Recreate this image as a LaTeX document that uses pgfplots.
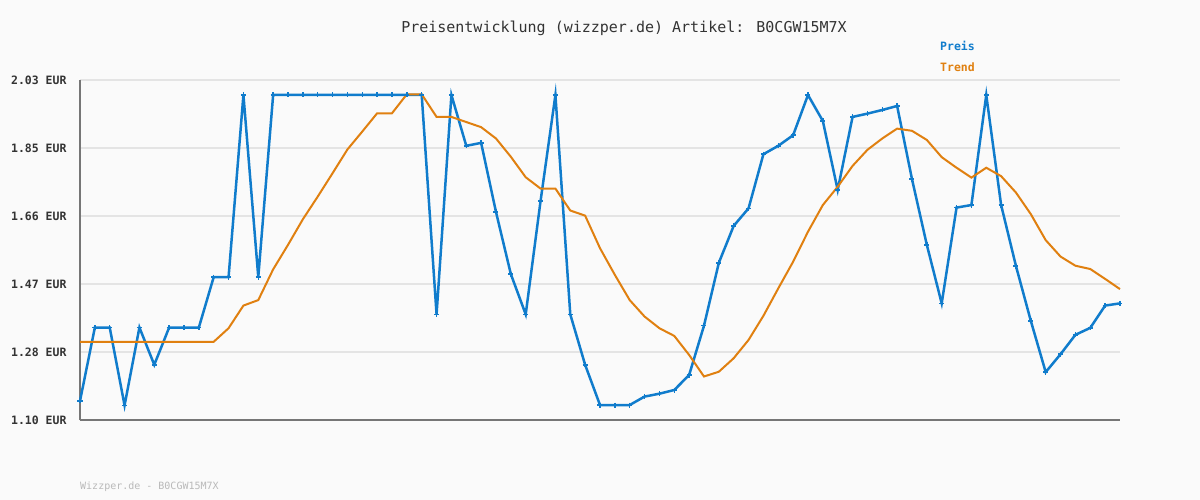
\documentclass[border=0pt]{standalone}
\usepackage{fontspec}
\setmainfont{DejaVu Sans Mono}
\usepackage{pgfplots}
\usepackage{pgfplotstable}
\pgfplotsset{compat=1.18}
\definecolor{preis}{RGB}{16,124,204}
\definecolor{trend}{RGB}{224,128,16}
\definecolor{bg}{RGB}{250,250,250}
\definecolor{gridc}{RGB}{228,228,228}
\definecolor{axc}{RGB}{118,118,118}
\definecolor{txt}{RGB}{51,51,51}
\definecolor{foot}{RGB}{185,185,185}

\pgfplotstableread{
i p t
0 1.152 1.314
1 1.353 1.314
2 1.353 1.314
3 1.140 1.314
4 1.353 1.314
5 1.251 1.314
6 1.353 1.314
7 1.353 1.314
8 1.353 1.314
9 1.491 1.314
10 1.491 1.351
11 1.989 1.413
12 1.491 1.428
13 1.989 1.512
14 1.989 1.579
15 1.989 1.649
16 1.989 1.711
17 1.989 1.775
18 1.989 1.840
19 1.989 1.889
20 1.989 1.939
21 1.989 1.939
22 1.989 1.991
23 1.989 1.991
24 1.389 1.929
25 1.989 1.929
26 1.850 1.915
27 1.858 1.901
28 1.669 1.870
29 1.499 1.820
30 1.389 1.764
31 1.699 1.733
32 1.989 1.733
33 1.389 1.673
34 1.251 1.659
35 1.141 1.570
36 1.141 1.497
37 1.141 1.428
38 1.164 1.383
39 1.172 1.351
40 1.182 1.330
41 1.223 1.278
42 1.358 1.219
43 1.530 1.232
44 1.631 1.269
45 1.679 1.319
46 1.827 1.385
47 1.850 1.460
48 1.879 1.533
49 1.989 1.615
50 1.918 1.688
51 1.729 1.738
52 1.929 1.795
53 1.938 1.839
54 1.948 1.870
55 1.959 1.897
56 1.759 1.891
57 1.579 1.866
58 1.419 1.819
59 1.681 1.790
60 1.688 1.763
61 1.989 1.790
62 1.688 1.767
63 1.521 1.722
64 1.371 1.663
65 1.231 1.592
66 1.280 1.547
67 1.333 1.522
68 1.352 1.513
69 1.413 1.486
70 1.419 1.458
}\data

\begin{document}
\begin{tikzpicture}
\fill[bg] (0,0) rectangle (1200bp,500bp);
\begin{axis}[
  at={(80bp,80bp)}, anchor=south west,
  scale only axis, width=1040bp, height=340bp,
  xmin=0, xmax=70, ymin=1.10, ymax=2.03,
  axis x line=bottom, axis y line=left,
  axis line style={-, draw=axc, line width=2bp},
  xtick=\empty,
  ytick={1.10,1.286,1.472,1.658,1.844,2.03},
  yticklabels={1.10 EUR,1.28 EUR,1.47 EUR,1.66 EUR,1.85 EUR,2.03 EUR},
  ymajorgrids, grid style={gridc, line width=1.5bp},
  major tick length=0pt,
  yticklabel style={font=\fontsize{11.5bp}{13bp}\selectfont\bfseries, text=txt, xshift=-10bp},
  clip=false,
  legend image code/.code={},
  legend cell align=left,
  legend style={draw=none, fill=none, at={(0.825,1.120)}, anchor=north west,
    font=\fontsize{11.5bp}{13bp}\selectfont\bfseries, row sep=7bp, inner sep=0pt},
]
\addplot[preis, line width=2.5bp, mark=+, mark size=2.5bp, mark options={line width=1.5bp}] table[x=i, y=p] {\data};
\addlegendentry{\textcolor{preis}{Preis}}
\addplot[trend, line width=2bp, no marks] table[x=i, y=t] {\data};
\addlegendentry{\textcolor{trend}{Trend}}
\node[font=\fontsize{15bp}{18bp}\selectfont, text=txt] at (rel axis cs:0.5231,1.1529) {Preisentwicklung (wizzper.de) Artikel: B0CGW15M7X};
\node[anchor=west, inner sep=0pt, font=\fontsize{10bp}{12bp}\selectfont, text=foot] at (rel axis cs:0,-0.197) {Wizzper.de - B0CGW15M7X};
\end{axis}
\end{tikzpicture}
\end{document}
